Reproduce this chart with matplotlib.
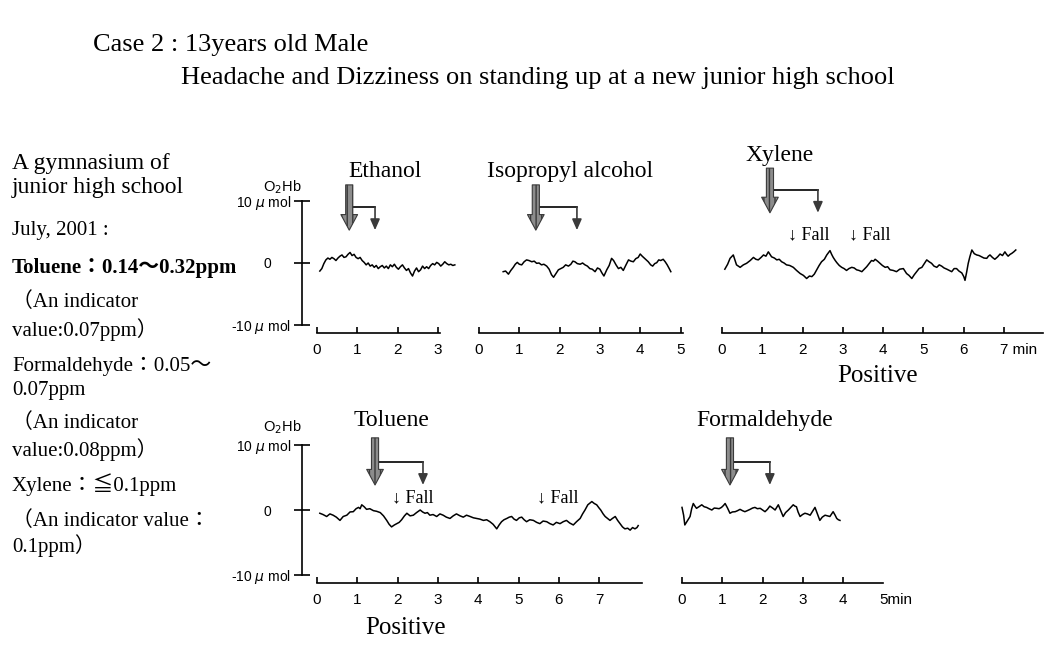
import numpy as np
import matplotlib.pyplot as plt

# readings (minutes, O2Hb in umol) taken off the traces
ethanol = [(0.07, -1.3), (0.12, -0.9), (0.17, -0.1), (0.22, 0.5), (0.27, 0.8), (0.32, 0.6), (0.37, 0.9),
           (0.42, 0.7), (0.47, 0.4), (0.52, 0.8), (0.57, 1.1), (0.62, 1.3), (0.67, 0.9), (0.72, 1.0),
           (0.77, 1.4), (0.82, 1.7), (0.87, 1.2), (0.92, 1.4), (0.97, 0.9), (1.02, 0.7), (1.07, 0.9),
           (1.12, 0.4), (1.17, 0.1), (1.22, -0.3), (1.27, 0.0), (1.32, -0.5), (1.37, -0.3), (1.42, -0.7),
           (1.47, -0.4), (1.52, -0.9), (1.57, -0.6), (1.62, -0.4), (1.67, -0.8), (1.72, -0.5), (1.77, -0.9),
           (1.82, -0.3), (1.87, -0.6), (1.92, -0.2), (1.97, -0.7), (2.02, -1.0), (2.07, -0.6), (2.12, -0.3),
           (2.17, -0.8), (2.22, -1.2), (2.27, -0.9), (2.32, -1.6), (2.37, -2.1), (2.42, -1.3), (2.47, -0.8),
           (2.52, -1.4), (2.57, -1.1), (2.62, -0.5), (2.67, -0.9), (2.72, -0.6), (2.77, -0.9), (2.82, -0.4),
           (2.87, -0.1), (2.92, -0.3), (2.97, 0.1), (3.02, -0.1), (3.07, -0.5), (3.12, -0.2), (3.17, 0.2),
           (3.22, -0.1), (3.27, -0.3), (3.32, -0.2), (3.37, -0.4), (3.42, -0.3)]

isopropyl = [(0.60, -1.4), (0.66, -1.3), (0.73, -1.8), (0.79, -1.2), (0.85, -0.7), (0.90, -0.2), (0.95, 0.1),
             (1.00, -0.2), (1.06, -0.3), (1.12, 0.2), (1.18, 0.5), (1.24, 0.4), (1.31, 0.2), (1.37, 0.3),
             (1.43, -0.05), (1.49, 0.0), (1.55, -0.3), (1.61, -0.2), (1.68, -0.5), (1.74, -1.0), (1.80, -1.9),
             (1.85, -2.3), (1.91, -1.7), (1.97, -1.1), (2.03, -0.9), (2.09, -0.7), (2.15, -0.3), (2.22, -0.5),
             (2.28, -0.2), (2.33, 0.3), (2.38, 0.2), (2.44, -0.1), (2.51, -0.2), (2.57, 0.0), (2.63, -0.3),
             (2.69, -0.5), (2.75, -0.9), (2.81, -1.0), (2.88, -1.4), (2.94, -0.8), (3.00, -1.0), (3.05, -1.6),
             (3.10, -2.1), (3.17, -1.1), (3.23, -0.4), (3.29, 0.75), (3.34, 0.4), (3.40, -0.3), (3.46, -0.9),
             (3.52, -0.7), (3.58, -1.2), (3.64, -0.4), (3.71, 0.5), (3.77, 0.3), (3.83, 0.2), (3.89, 0.7),
             (3.95, 0.9), (4.00, 1.45), (4.05, 1.1), (4.10, 0.8), (4.15, 0.5), (4.20, 0.2), (4.26, -0.3),
             (4.31, -0.5), (4.36, -0.1), (4.41, 0.05), (4.46, 0.5), (4.51, 0.4), (4.57, 0.6), (4.62, 0.2),
             (4.67, -0.3), (4.72, -0.9), (4.76, -1.4)]

xylene = [(0.07, -1.0), (0.14, -0.2), (0.20, 0.75), (0.28, 1.3), (0.36, -0.3), (0.45, -0.7), (0.53, -0.3),
          (0.61, -0.05), (0.70, 0.4), (0.78, 0.9), (0.84, 0.6), (0.90, 0.5), (0.97, 0.9), (1.03, 1.3),
          (1.09, 1.1), (1.15, 1.8), (1.23, 1.0), (1.30, 0.8), (1.36, 0.5), (1.42, 0.6), (1.48, 0.2),
          (1.54, 0.0), (1.60, -0.3), (1.68, -0.4), (1.77, -0.7), (1.85, -1.2), (1.94, -1.7), (2.02, -2.0),
          (2.10, -2.5), (2.17, -2.1), (2.23, -2.2), (2.29, -1.8), (2.35, -1.1), (2.41, -0.4), (2.47, 0.2),
          (2.54, 0.6), (2.60, 1.3), (2.68, 2.0), (2.72, 1.4), (2.76, 0.9), (2.81, 0.4), (2.85, 0.05),
          (2.91, -0.4), (2.97, -0.7), (3.03, -0.9), (3.09, -1.2), (3.15, -0.9), (3.22, -0.7), (3.28, -0.8),
          (3.34, -1.1), (3.40, -1.2), (3.47, -1.4), (3.53, -1.0), (3.59, -0.6), (3.65, -0.1), (3.71, 0.4),
          (3.76, 0.3), (3.80, 0.6), (3.86, 0.3), (3.92, -0.05), (3.98, -0.4), (4.05, -0.7), (4.11, -0.6),
          (4.17, -1.1), (4.25, -1.2), (4.33, -1.4), (4.41, -1.0), (4.50, -0.9), (4.54, -1.3), (4.58, -1.7),
          (4.64, -2.0), (4.71, -2.5), (4.77, -1.9), (4.83, -1.4), (4.89, -0.9), (4.96, -0.7), (5.02, -0.1),
          (5.08, 0.5), (5.14, 0.2), (5.20, -0.05), (5.26, -0.5), (5.33, -0.7), (5.39, -0.3), (5.45, -0.5),
          (5.51, -0.8), (5.58, -1.0), (5.64, -1.2), (5.70, -1.4), (5.76, -0.9), (5.82, -0.9), (5.88, -1.3),
          (5.95, -1.6), (6.00, -2.2), (6.03, -2.8), (6.07, -1.5), (6.11, -0.05), (6.15, 1.0), (6.20, 2.1),
          (6.26, 1.5), (6.32, 1.3), (6.38, 1.2), (6.44, 1.0), (6.50, 0.8), (6.57, 0.75), (6.61, 1.1),
          (6.65, 1.3), (6.71, 0.9), (6.77, 0.6), (6.84, 1.0), (6.90, 1.45), (6.96, 1.2), (7.02, 1.8),
          (7.06, 1.4), (7.10, 1.1), (7.15, 1.4), (7.19, 1.55), (7.24, 1.8), (7.29, 2.1)]

toluene = [(0.07, -0.5), (0.15, -0.7), (0.24, -1.0), (0.32, -0.6), (0.40, -0.8), (0.48, -1.1), (0.57, -1.6),
           (0.65, -1.0), (0.74, -0.8), (0.82, -0.3), (0.90, -0.26), (0.97, 0.2), (1.03, 0.4), (1.07, 0.2),
           (1.11, 0.8), (1.17, 0.5), (1.23, 0.1), (1.31, 0.2), (1.40, -0.1), (1.48, -0.2), (1.57, -0.4),
           (1.65, -0.9), (1.73, -1.6), (1.79, -2.2), (1.85, -2.6), (1.92, -2.3), (1.98, -2.1), (2.04, -1.9),
           (2.10, -1.5), (2.17, -0.9), (2.23, -0.5), (2.31, -0.9), (2.39, -0.8), (2.47, -0.4), (2.56, 0.0),
           (2.62, -0.3), (2.68, -0.5), (2.74, -0.4), (2.80, -0.8), (2.88, -0.7), (2.97, -1.0), (3.05, -0.6),
           (3.13, -0.8), (3.21, -1.1), (3.30, -1.3), (3.38, -0.9), (3.46, -0.6), (3.55, -0.9), (3.63, -1.1),
           (3.71, -0.8), (3.80, -1.0), (3.88, -1.2), (3.96, -1.3), (4.04, -1.4), (4.13, -1.6), (4.21, -1.5),
           (4.29, -1.8), (4.37, -2.2), (4.46, -2.9), (4.52, -2.3), (4.58, -1.8), (4.64, -1.5), (4.71, -1.3),
           (4.77, -1.1), (4.83, -1.0), (4.89, -1.4), (4.95, -1.6), (5.02, -1.2), (5.08, -1.1), (5.14, -1.5),
           (5.20, -1.8), (5.28, -1.5), (5.37, -1.6), (5.45, -1.9), (5.53, -2.1), (5.61, -1.7), (5.70, -1.8),
           (5.78, -2.1), (5.86, -2.3), (5.94, -1.9), (6.03, -2.1), (6.11, -1.8), (6.19, -1.6), (6.27, -2.0),
           (6.36, -2.3), (6.44, -1.8), (6.53, -1.3), (6.59, -0.6), (6.65, 0.0), (6.72, 0.8), (6.78, 1.1),
           (6.82, 1.3), (6.88, 1.0), (6.94, 0.8), (7.00, 0.3), (7.04, 0.0), (7.10, -0.6), (7.15, -1.0),
           (7.21, -1.3), (7.27, -1.6), (7.33, -1.3), (7.40, -1.0), (7.46, -1.6), (7.52, -2.1), (7.58, -2.6),
           (7.64, -2.9), (7.71, -2.8), (7.77, -3.1), (7.83, -2.7), (7.89, -2.9), (7.94, -2.7), (7.97, -2.4)]

formaldehyde = [(0.00, 0.4), (0.04, -0.8), (0.07, -2.3), (0.13, -1.7), (0.20, -1.0), (0.24, 0.2), (0.28, 1.0),
                (0.32, 0.6), (0.36, 0.26), (0.42, 0.5), (0.49, 0.8), (0.55, 0.5), (0.61, 0.4), (0.67, 0.2),
                (0.74, 0.0), (0.80, 0.3), (0.86, 0.26), (0.92, 0.2), (0.98, 0.4), (1.03, 0.7), (1.07, 1.0),
                (1.13, 0.3), (1.19, -0.5), (1.25, -0.3), (1.32, -0.26), (1.38, -0.1), (1.44, 0.1), (1.50, -0.1),
                (1.56, -0.26), (1.62, -0.1), (1.69, 0.1), (1.75, 0.3), (1.81, 0.4), (1.87, 0.2), (1.94, 0.26),
                (2.00, 0.0), (2.06, -0.26), (2.12, 0.1), (2.18, 0.6), (2.25, 0.3), (2.31, 0.0), (2.35, 0.4),
                (2.39, 0.8), (2.45, -0.1), (2.51, -1.0), (2.57, -0.4), (2.64, 0.0), (2.70, 0.4), (2.76, 0.8),
                (2.80, 0.6), (2.84, 0.5), (2.88, -0.3), (2.93, -1.0), (2.99, -0.7), (3.05, -0.5), (3.11, -0.6),
                (3.18, -0.8), (3.24, -0.2), (3.30, 0.4), (3.36, -0.6), (3.42, -1.6), (3.48, -1.1), (3.55, -0.8),
                (3.61, -0.9), (3.67, -1.0), (3.75, -0.26), (3.80, -0.8), (3.84, -1.3), (3.88, -1.5), (3.92, -1.6)]

# exposure start / end marks (min)
stim_start = {'ethanol': 0.8, 'isopropyl': 1.41, 'xylene': 1.19, 'toluene': 1.44, 'formaldehyde': 1.19}
stim_end = {'ethanol': 1.44, 'isopropyl': 2.43, 'xylene': 2.38, 'toluene': 2.63, 'formaldehyde': 2.18}

notes = ['A gymnasium of', 'junior high school', 'July, 2001 :', 'Toluene：0.14～0.32ppm',
         '（An indicator', 'value:0.07ppm）', 'Formaldehyde：0.05～', '0.07ppm',
         '（An indicator', 'value:0.08ppm）', 'Xylene：≦0.1ppm', '（An indicator value：', '0.1ppm）']

plt.rcParams['font.family'] = ['Liberation Serif', 'Noto Sans CJK JP', 'DejaVu Sans']
SANS = ['Liberation Sans', 'DejaVu Sans']

W, H = 1048, 648
PPM = 40.3  # pixels per minute

fig = plt.figure(figsize=(W / 100, H / 100), dpi=100)


def make_panel(x0, y0, ppu, tmin, tmax, line_end, ticks):
    ax = fig.add_axes([(x0 + tmin * PPM) / W, (H - y0 - 10 * ppu) / H,
                       (tmax - tmin) * PPM / W, 20 * ppu / H])
    ax.set_xlim(tmin, tmax)
    ax.set_ylim(-10, 10)
    ax.patch.set_visible(False)
    for s in ('top', 'right', 'left'):
        ax.spines[s].set_visible(False)
    sp = ax.spines['bottom']
    sp.set_position(('data', -11.3))
    sp.set_bounds(0, line_end)
    sp.set_linewidth(1.2)
    ax.set_xticks(ticks)
    ax.set_xticklabels([str(t) for t in ticks])
    ax.tick_params(axis='x', direction='in', length=4, width=1.2, pad=7, labelsize=11)
    for lab in ax.get_xticklabels():
        lab.set_family(SANS)
    ax.set_yticks([])
    return ax


def add_yaxis(ax, xpos, ylab_v):
    sp = ax.spines['left']
    sp.set_visible(True)
    sp.set_position(('data', xpos))
    sp.set_bounds(-10, 10)
    sp.set_linewidth(1.2)
    ax.set_yticks([-10, 0, 10])
    ax.set_yticklabels(['-10 $\\mu$ mol', '0     ', '10 $\\mu$ mol'])
    ax.tick_params(axis='y', direction='inout', length=12, width=1.2, labelsize=10, pad=2)
    for lab in ax.get_yticklabels():
        lab.set_family(SANS)
    ax.text(xpos - 0.5, ylab_v, 'O$_2$Hb', ha='center', va='center', fontsize=10.5, family=SANS)


def trace(ax, pts):
    t, v = zip(*pts)
    ax.plot(t, v, color='black', lw=1.1, clip_on=False)


def stim(ax, key, ytop, ytip, yh):
    xb, xs = stim_start[key], stim_end[key]
    ax.annotate('', xy=(xb, ytip), xytext=(xb, ytop), annotation_clip=False,
                arrowprops=dict(arrowstyle='simple,head_length=0.7,head_width=0.75,tail_width=0.32',
                                mutation_scale=16, fc='#8c8c8c', ec='#3a3a3a', lw=0.8,
                                hatch='|||', shrinkA=0, shrinkB=0))
    ax.plot([xb, xs], [yh, yh], color='black', lw=1.2, clip_on=False)
    ax.annotate('', xy=(xs, ytip), xytext=(xs, yh), annotation_clip=False,
                arrowprops=dict(arrowstyle='-|>,head_length=0.5,head_width=0.22', mutation_scale=13,
                                color='#3a3a3a', lw=1.2, shrinkA=0, shrinkB=0))


def fall(ax, t, v):
    ax.text(t, v, '↓ Fall', ha='left', va='center', fontsize=13,
            family=['Liberation Serif', 'DejaVu Sans'])


# top row
TOP_Y0, TOP_PPU = 263, 6.2
ax1 = make_panel(317, TOP_Y0, TOP_PPU, -0.45, 3.5, 3.05, [0, 1, 2, 3])
trace(ax1, ethanol)
add_yaxis(ax1, -0.37, 12.3)
stim(ax1, 'ethanol', 12.6, 5.3, 9.0)
ax1.text(1.69, 14.7, 'Ethanol', ha='center', va='center', fontsize=17)

ax2 = make_panel(479, TOP_Y0, TOP_PPU, -0.1, 5.0, 5.05, [0, 1, 2, 3, 4, 5])
trace(ax2, isopropyl)
stim(ax2, 'isopropyl', 12.6, 5.3, 9.0)
ax2.text(2.26, 14.7, 'Isopropyl alcohol', ha='center', va='center', fontsize=17)

ax3 = make_panel(722, TOP_Y0, TOP_PPU, -0.1, 8.0, 7.97, [0, 1, 2, 3, 4, 5, 6, 7])
ax3.set_xticklabels(['0', '1', '2', '3', '4', '5', '6', ''])
trace(ax3, xylene)
stim(ax3, 'xylene', 15.3, 8.1, 11.8)
ax3.text(1.44, 17.4, 'Xylene', ha='center', va='center', fontsize=17)
fall(ax3, 1.64, 4.5)
fall(ax3, 3.15, 4.5)
ax3.text(6.9, -12.85, '7 min', ha='left', va='top', fontsize=11, family=SANS)
ax3.text(3.87, -18.2, 'Positive', ha='center', va='center', fontsize=18)

# bottom row
BOT_Y0, BOT_PPU = 510, 6.5
ax4 = make_panel(317, BOT_Y0, BOT_PPU, -0.45, 8.1, 8.06, [0, 1, 2, 3, 4, 5, 6, 7])
trace(ax4, toluene)
add_yaxis(ax4, -0.37, 12.8)
stim(ax4, 'toluene', 11.1, 3.85, 7.4)
ax4.text(1.84, 13.7, 'Toluene', ha='center', va='center', fontsize=17)
fall(ax4, 1.87, 1.85)
fall(ax4, 5.46, 1.85)
ax4.text(2.2, -18.2, 'Positive', ha='center', va='center', fontsize=18)

ax5 = make_panel(682, BOT_Y0, BOT_PPU, -0.1, 5.5, 4.99, [0, 1, 2, 3, 4])
trace(ax5, formaldehyde)
stim(ax5, 'formaldehyde', 11.1, 3.85, 7.4)
ax5.text(2.06, 13.7, 'Formaldehyde', ha='center', va='center', fontsize=17)
ax5.text(4.9, -12.8, '5min', ha='left', va='top', fontsize=11, family=SANS)

# headings
fig.text(93 / W, 1 - 45 / H, 'Case 2 : 13years old Male', fontsize=19, va='center')
fig.text(181 / W, 1 - 78 / H, 'Headache and Dizziness on standing up at a new junior high school',
         fontsize=19, va='center')

# left notes
note_y = [164, 187, 231, 268, 302, 330, 366, 391, 423, 450, 485, 521, 546]
for i, (txt, y) in enumerate(zip(notes, note_y)):
    size = 17 if i < 2 else 15
    fig.text(12 / W, 1 - y / H, txt, fontsize=size, va='center',
             fontweight='bold' if i == 3 else 'normal')

fig.savefig('out.png', dpi=100)
